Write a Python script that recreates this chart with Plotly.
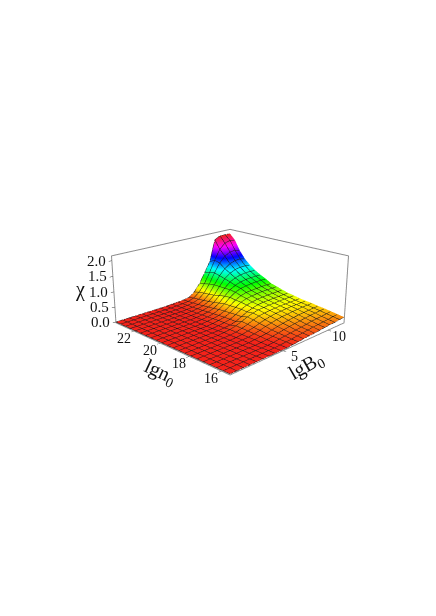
import plotly.graph_objects as go

lgB = [0, 0.6, 1.2, 1.8, 2.4, 3, 3.6, 4.2, 4.8, 5.4, 6, 6.6, 7.2, 7.8, 8.4, 9, 9.6, 10.2, 10.8, 11.4, 12]
lgn = [15.5, 15.9, 16.3, 16.7, 17.1, 17.5, 17.9, 18.3, 18.7, 19.1, 19.5, 19.9, 20.3, 20.7, 21.1, 21.5, 21.9, 22.3, 22.7, 23.1, 23.5]

# chi values, one row per lgn value (low lgn first)
chi = [
 [0,0,0,0,0,0,0,0,0,0,.02,.03,.05,.06,.07,.09,.11,.12,.13,.15,.16],
 [0,0,0,0,0,0,0,0,0,.01,.03,.04,.06,.08,.10,.12,.13,.15,.16,.18,.19],
 [0,0,0,0,0,0,0,0,0,.01,.04,.06,.08,.10,.12,.14,.17,.18,.19,.21,.22],
 [0,0,0,0,0,0,0,0,.01,.02,.05,.08,.11,.14,.16,.18,.20,.22,.23,.24,.25],
 [0,0,0,0,0,0,0,0,.02,.04,.06,.10,.14,.17,.20,.22,.24,.25,.26,.27,.27],
 [0,0,0,0,0,0,0,.01,.02,.05,.09,.14,.18,.22,.25,.26,.28,.29,.30,.30,.30],
 [0,0,0,0,0,0,0,.01,.03,.07,.11,.17,.22,.26,.29,.30,.31,.32,.32,.32,.32],
 [0,0,0,0,0,0,0,.01,.03,.08,.14,.21,.27,.30,.32,.33,.34,.34,.34,.34,.34],
 [0,0,0,0,0,0,0,.02,.04,.09,.16,.24,.30,.34,.35,.37,.37,.38,.38,.38,.38],
 [0,0,0,0,0,0,0,0,.02,.04,.09,.18,.27,.33,.38,.40,.40,.41,.41,.41,.41],
 [0,0,0,0,0,0,0,0,.02,.05,.09,.18,.29,.37,.41,.44,.45,.46,.46,.46,.46],
 [0,0,0,0,0,0,0,0,.02,.05,.09,.17,.29,.40,.46,.49,.51,.52,.52,.52,.52],
 [0,0,0,0,0,0,0,0,.02,.04,.08,.16,.28,.41,.50,.55,.56,.57,.58,.58,.57],
 [0,0,0,0,0,0,0,0,.01,.03,.07,.15,.28,.44,.56,.63,.66,.68,.69,.69,.68],
 [0,0,0,0,0,0,0,0,.01,.03,.06,.12,.24,.42,.58,.68,.74,.77,.78,.78,.77],
 [0,0,0,0,0,0,0,0,.01,.02,.05,.10,.20,.38,.58,.74,.83,.88,.90,.90,.88],
 [0,0,0,0,0,0,0,0,.01,.02,.04,.08,.17,.33,.58,.80,.94,1.02,1.05,1.05,1.02],
 [0,0,0,0,0,0,0,0,0,.01,.03,.06,.14,.30,.58,.85,1.05,1.18,1.24,1.25,1.20],
 [0,0,0,0,0,0,0,0,0,.01,.03,.05,.12,.28,.55,.90,1.20,1.40,1.50,1.52,1.45],
 [0,0,0,0,0,0,0,0,0,.01,.02,.04,.10,.25,.50,.85,1.25,1.60,1.78,1.83,1.80],
 [0,0,0,0,0,0,0,0,0,.01,.02,.03,.06,.20,.45,.80,1.15,1.90,2.00,2.00,2.00],
]

hue_scale = [[0, "#f4221a"], [1/6, "#ffff00"], [2/6, "#00ff00"], [3/6, "#00ffff"],
             [4/6, "#0000ff"], [5/6, "#ff00ff"], [1, "#f4221a"]]
n_ticks = [16, 18, 20, 22]
n_labels = ["16", "18", "20", "22"]
b_ticks = [5, 10]
b_labels = ["5", "10"]
chi_ticks = [0, 0.5, 1, 1.5, 2]
chi_labels = ["0.0", "0.5", "1.0", "1.5", "2.0"]

FONT = "Liberation Serif"
B_RANGE = [0, 12]
N_RANGE = [15.5, 23.5]
Z_RANGE = [-0.03, 2.15]

def axis(rng, vals, text):
    return dict(range=rng, tickvals=vals, ticktext=text, title=dict(text=""), showticklabels=False,
                showgrid=False, zeroline=False, showbackground=False, showspikes=False,
                showline=True, mirror=True, linecolor="#8c8c8c", linewidth=2,
                ticks="outside", ticklen=3, tickcolor="#333333")

def tick_note(x, y, z, text, xs, ys, size=14):
    return dict(x=x, y=y, z=z, text=text, showarrow=False, xshift=xs, yshift=ys,
                font=dict(family=FONT, size=size, color="#111111"))

notes = []
for v, t in zip(n_ticks, n_labels):
    notes.append(tick_note(B_RANGE[0], v, Z_RANGE[0], t, -10, -7))
for v, t in zip(b_ticks, b_labels):
    notes.append(tick_note(v, N_RANGE[0], Z_RANGE[0], t, 11, -6))
for v, t in zip(chi_ticks, chi_labels):
    notes.append(tick_note(B_RANGE[0], N_RANGE[1], v, t, -15, 0, size=15))

def title_note(text, px, py, angle, size=20):
    return dict(text=text, x=px/436, y=1-py/616, xref="paper", yref="paper", showarrow=False,
                xanchor="center", yanchor="middle", textangle=angle,
                font=dict(family=FONT, size=size, color="#111111"))

fig = go.Figure(go.Surface(
    x=lgB, y=lgn, z=chi, surfacecolor=chi, cmin=0, cmax=2, colorscale=hue_scale, showscale=False,
    lighting=dict(ambient=1.0, diffuse=0.0, specular=0.0, roughness=1.0),
    contours=dict(
        x=dict(show=True, start=0, end=12, size=0.6, color="#1a1a1a", width=2),
        y=dict(show=True, start=15.5, end=23.5, size=0.4, color="#1a1a1a", width=2),
    ),
))
fig.update_layout(
    width=436, height=616, margin=dict(l=0, r=0, t=0, b=0), paper_bgcolor="white", showlegend=False,
    scene=dict(
        domain=dict(x=[0.018, 1], y=[0.1455, 0.9385]),
        xaxis=axis(B_RANGE, b_ticks, b_labels),
        yaxis=axis(N_RANGE, n_ticks, n_labels),
        zaxis=axis(Z_RANGE, chi_ticks, chi_labels),
        aspectmode="manual", aspectratio=dict(x=1, y=1, z=0.43),
        camera=dict(eye=dict(x=-2.4, y=-2.4, z=1.15), center=dict(x=0, y=0, z=0),
                    up=dict(x=0, y=0, z=1)),
        annotations=notes,
    ),
    annotations=[
        title_note("lgn<sub>0</sub>", 152, 364, 25),
        title_note("lgB<sub>0</sub>", 298, 358, -30),
        title_note("χ", 72, 281, 0),
    ],
)
fig.write_html("out.html")
